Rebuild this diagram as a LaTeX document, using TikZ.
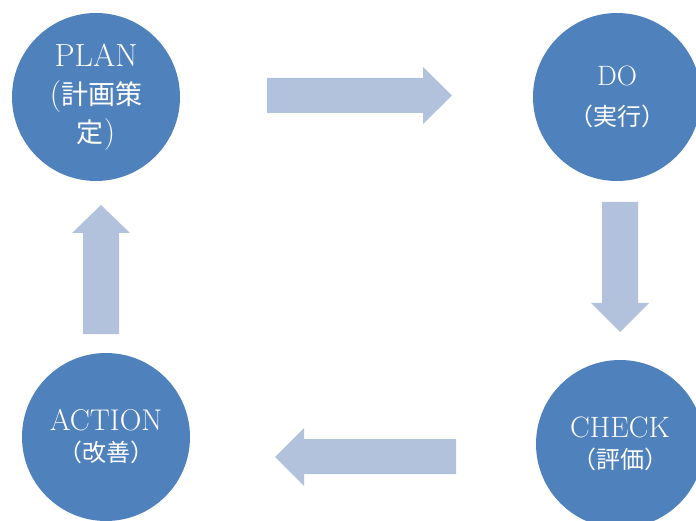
\documentclass[tikz,border=0pt]{standalone}
\usepackage{fontspec}
\usepackage{xcolor}
\newfontfamily\jp{Noto Sans CJK JP}
\definecolor{stepblue}{RGB}{79,129,189}
\definecolor{flowblue}{RGB}{178,193,220}
\tikzset{
  phase/.style={circle,fill=stepblue,text=white,minimum size=168pt,
    inner sep=0pt,align=center},
  flow/.style={fill=flowblue}
}
\begin{document}
\begin{tikzpicture}[x=1pt,y=-1pt]
      \useasboundingbox (0,0) rectangle (696,521);

      \node[phase,font=\fontsize{32}{38}\selectfont] (plan) at (96,97)
        {PLAN\\({\jp\fontsize{27}{27}\selectfont 計画策}\\{\jp\fontsize{27}{27}\selectfont 定})};
      \node[phase,font=\fontsize{28}{40}\selectfont] (do) at (617,97)
        {DO\\{\jp\fontsize{24}{24}\selectfont （実行）}};
      \node[phase,font=\fontsize{29.5}{31}\selectfont] (check) at (620,444)
        {CHECK\\{\jp\fontsize{24}{24}\selectfont （評価）}};
      \node[phase,font=\fontsize{30}{31}\selectfont] (action) at (106,437)
        {ACTION\\{\jp\fontsize{24}{24}\selectfont （改善）}};

      \fill[flow] (267,78) -- (423,78) -- (423,67) -- (452,95.5)
        -- (423,124) -- (423,113) -- (267,113) -- cycle;
      \fill[flow] (602,202) -- (638,202) -- (638,303) -- (649,303)
        -- (620,332) -- (591,303) -- (602,303) -- cycle;
      \fill[flow] (456,439) -- (304,439) -- (304,428) -- (275,457)
        -- (304,486) -- (304,474) -- (456,474) -- cycle;
      \fill[flow] (83,334) -- (83,233) -- (72,233) -- (101,205)
        -- (130,233) -- (119,233) -- (119,334) -- cycle;
    \end{tikzpicture}
\end{document}
